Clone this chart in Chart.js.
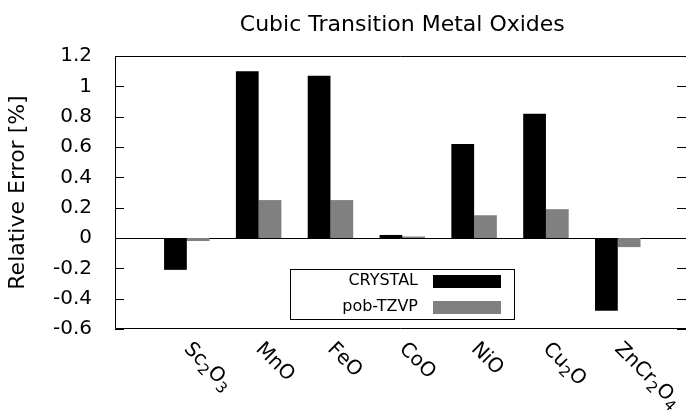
<!DOCTYPE html>
<html>
<head>
<meta charset="utf-8">
<script src="https://cdn.jsdelivr.net/npm/chart.js@4/dist/chart.umd.min.js"></script>
<style>
    html, body { margin: 0; padding: 0; background: #fff; }
</style>
</head>
<body>
<canvas id="chart" width="686" height="417"></canvas>
<script>
// ---- data ----
const categories = ['Sc2O3', 'MnO', 'FeO', 'CoO', 'NiO', 'Cu2O', 'ZnCr2O4'];
const crystal = [-0.21, 1.10, 1.07, 0.02, 0.62, 0.82, -0.48];
const pobTZVP = [-0.02, 0.25, 0.25, 0.01, 0.15, 0.19, -0.06];
const seriesNames = ['CRYSTAL', 'pob-TZVP'];
const yTicks = [-0.6, -0.4, -0.2, 0, 0.2, 0.4, 0.6, 0.8, 1, 1.2];
const xMin = -1, xMax = 6.95;   // gnuplot range runs to 7, right edge is cut off

const FONT = "'DejaVu Sans', sans-serif";
Chart.defaults.font.family = FONT;
Chart.defaults.color = '#000';

// draws "Sc2O3" style text with the digits as subscripts
function drawChem(ctx, text, size) {
    let cx = 0;
    for (const ch of text) {
        const sub = /[0-9]/.test(ch);
        ctx.font = (sub ? Math.round(size * 0.75) : size) + 'px ' + FONT;
        ctx.fillText(ch, cx, sub ? size * 0.3 : 0);
        cx += ctx.measureText(ch).width;
    }
}

const gnuplotLook = {
    id: 'gnuplotLook',
    beforeDatasetsDraw(chart) {
        const { ctx, chartArea: a, scales: { y } } = chart;
        const y0 = Math.round(y.getPixelForValue(0)) + 0.5;
        ctx.save();
        ctx.strokeStyle = '#000';
        ctx.lineWidth = 1;
        ctx.beginPath();
        ctx.moveTo(a.left, y0); ctx.lineTo(a.right, y0);
        ctx.stroke();
        ctx.restore();
    },
    afterDraw(chart) {
        const { ctx, chartArea: a, scales: { x, y } } = chart;
        ctx.save();
        ctx.strokeStyle = '#000';
        ctx.fillStyle = '#000';
        ctx.lineWidth = 1;

        // frame (right side lies outside the picture)
        ctx.beginPath();
        ctx.moveTo(a.right, a.top + 0.5); ctx.lineTo(a.left + 0.5, a.top + 0.5);
        ctx.lineTo(a.left + 0.5, a.bottom - 0.5); ctx.lineTo(a.right, a.bottom - 0.5);
        ctx.stroke();

        // inward tick marks, mirrored on the right
        ctx.beginPath();
        yTicks.forEach(v => {
            const py = Math.round(y.getPixelForValue(v)) + 0.5;
            ctx.moveTo(a.left, py); ctx.lineTo(a.left + 9, py);
            ctx.moveTo(a.right - 9, py); ctx.lineTo(a.right, py);
        });
        ctx.stroke();

        // category labels rotated by -45 (gnuplot sense)
        ctx.textAlign = 'left';
        ctx.textBaseline = 'middle';
        categories.forEach((c, i) => {
            ctx.save();
            ctx.translate(x.getPixelForValue(i), a.bottom + 17);
            ctx.rotate(Math.PI / 4);
            drawChem(ctx, c, 20);
            ctx.restore();
        });

        // title
        ctx.font = '22px ' + FONT;
        ctx.textAlign = 'center';
        ctx.fillText('Cubic Transition Metal Oxides', x.getPixelForValue(3), 25);

        // key box
        ctx.strokeRect(290.5, 269.5, 224, 50);
        ctx.font = '16px ' + FONT;
        ctx.textAlign = 'right';
        chart.data.datasets.forEach((ds, i) => {
            const rowY = 281 + i * 26;
            ctx.fillStyle = '#000';
            ctx.fillText(ds.label, 418, rowY);
            ctx.fillStyle = ds.backgroundColor;
            ctx.fillRect(433, rowY - 6, 68, 13);
        });
        ctx.restore();
    }
};

new Chart(document.getElementById('chart'), {
    type: 'bar',
    data: {
        datasets: [
            { label: seriesNames[0], data: crystal.map((v, i) => ({ x: i, y: v })), backgroundColor: '#000000' },
            { label: seriesNames[1], data: pobTZVP.map((v, i) => ({ x: i, y: v })), backgroundColor: '#808080' }
        ]
    },
    options: {
        responsive: false,
        devicePixelRatio: 1,
        animation: false,
        layout: { padding: { top: 56, left: 0, right: 0, bottom: 0 } },
        datasets: { bar: { categoryPercentage: 0.667, barPercentage: 1, borderWidth: 0 } },
        plugins: { legend: { display: false }, title: { display: false }, tooltip: { enabled: false } },
        scales: {
            x: {
                type: 'linear', min: xMin, max: xMax, offset: false,
                grid: { display: false }, border: { display: false },
                ticks: { display: false },
                afterFit: s => { s.height = 88; }
            },
            y: {
                min: -0.6, max: 1.2,
                grid: { display: false }, border: { display: false },
                afterBuildTicks: s => { s.ticks = yTicks.map(v => ({ value: v })); },
                ticks: { autoSkip: false, padding: 15, font: { size: 20 }, color: '#000', callback: v => String(v) },
                title: { display: true, text: 'Relative Error [%]', font: { size: 22 }, padding: { top: 5 }, color: '#000' },
                afterFit: s => { s.width = 115; }
            }
        }
    },
    plugins: [gnuplotLook]
});
</script>
</body>
</html>
